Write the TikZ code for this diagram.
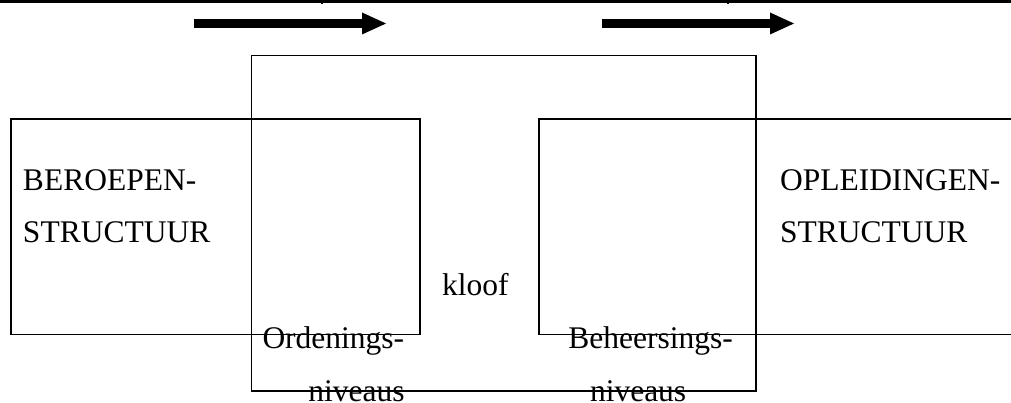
\documentclass[tikz,border=0pt]{standalone}
\usepackage{fontspec}
\setmainfont{Liberation Serif}
\begin{document}
\begin{tikzpicture}[x=1pt,y=-1pt,
  frame/.style={draw=black,line width=1.6pt},
  lbl/.style={anchor=base west,inner sep=0pt,outer sep=0pt,font=\fontsize{31.5}{38}\selectfont},
  blockarrow/.style={fill=black,draw=none}]
\useasboundingbox (0,0) rectangle (1011,403);
\clip (0,0) rectangle (1011,403);
% top rule with ticks
\draw[line width=3pt] (0,1.2) -- (1011,1.2);
\draw[line width=1.2pt] (322,0) -- (322,4.5);
\draw[line width=1.2pt] (728,0) -- (728,4.5);
% block arrows
\fill[blockarrow] (194,19.2) -- (362,19.2) -- (362,12.5) -- (386,23.5) -- (362,34.5) -- (362,27.8) -- (194,27.8) -- cycle;
\fill[blockarrow] (602,19.2) -- (770,19.2) -- (770,12.5) -- (794,23.5) -- (770,34.5) -- (770,27.8) -- (602,27.8) -- cycle;
% boxes
\draw[frame] (251.5,55.5) rectangle (756,391);
\draw[frame] (11,119.3) rectangle (420,334.5);
\draw[frame] (539,119.3) rectangle (1020,334.5);
% texts
\node[lbl] (b1) at (23,191) {BEROEPEN-};
\node[lbl] (b2) at (23,243) {STRUCTUUR};
\node[lbl] (o1) at (780,191) {OPLEIDINGEN-};
\node[lbl] (o2) at (780,243) {STRUCTUUR};
\node[lbl] (kl) at (442,295) {kloof};
\node[lbl] (or1) at (262.5,348.3) {Ordenings-};
\node[lbl] (or2) at (308.3,401.5) {niveaus};
\node[lbl] (be1) at (568.3,348.3) {Beheersings-};
\node[lbl] (be2) at (590,401.5) {niveaus};
\end{tikzpicture}
\end{document}
